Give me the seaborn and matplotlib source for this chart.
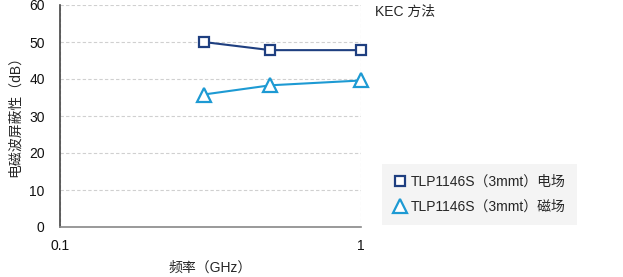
import matplotlib
matplotlib.use("Agg")
import matplotlib.pyplot as plt
from matplotlib.lines import Line2D
import seaborn as sns
import pandas as pd

freq_ghz = [0.3, 0.5, 1.0]
electric_db = [50.0, 47.8, 47.8]
magnetic_db = [35.8, 38.3, 39.6]
series_names = ["TLP1146S（3mmt）电场", "TLP1146S（3mmt）磁场"]
y_ticks = [0, 10, 20, 30, 40, 50, 60]
x_ticks = [0.1, 1]
x_tick_labels = ["0.1", "1"]

df = pd.DataFrame({
    "freq": freq_ghz * 2,
    "db": electric_db + magnetic_db,
    "series": [series_names[0]] * 3 + [series_names[1]] * 3,
})

sns.set_style("white")
plt.rcParams["font.family"] = ["Liberation Sans", "Noto Sans CJK SC", "DejaVu Sans"]

colors = {series_names[0]: "#1f3f80", series_names[1]: "#1d9ad3"}
markers = {series_names[0]: "s", series_names[1]: "^"}
msize = {"s": 7, "^": 9.5}

fig = plt.figure(figsize=(6.23, 2.77), dpi=100)
ax = fig.add_axes([60 / 623, 1 - 227 / 277, (361 - 60) / 623, (227 - 5) / 277])

for name in series_names:
    sub = df[df["series"] == name]
    sns.lineplot(data=sub, x="freq", y="db", ax=ax, color=colors[name],
                 marker=markers[name], markersize=msize[markers[name]],
                 markerfacecolor="white", markeredgecolor=colors[name],
                 markeredgewidth=1.6, linewidth=1.5, legend=False)

ax.set_xscale("log")
ax.set_xlim(0.1, 1)
ax.set_ylim(0, 60)
ax.set_yticks(y_ticks)
ax.set_xticks(x_ticks)
ax.set_xticklabels(x_tick_labels)
ax.minorticks_off()
ax.tick_params(axis="both", labelsize=10, direction="out", length=5, width=1,
               color="#555555", labelcolor="#111111", pad=4)
ax.tick_params(axis="y", pad=6)
for l in ax.lines:
    l.set_clip_on(False)

ax.grid(True, axis="y", linestyle=(0, (3, 2)), color="#d0d0d0", linewidth=0.8)
ax.grid(True, axis="x", linestyle=(0, (3, 2)), color="#d0d0d0", linewidth=0.8)
ax.spines["top"].set_visible(False)
ax.spines["right"].set_visible(False)
ax.spines["left"].set_color("#444444")
ax.spines["bottom"].set_color("#888888")
ax.spines["left"].set_linewidth(1.2)
ax.spines["bottom"].set_linewidth(1.2)

ax.set_xlabel("")
ax.set_ylabel("")
fig.text(210 / 623, 1 - 268 / 277, "频率（GHz）", ha="center", va="center", fontsize=10)
fig.text(15 / 623, 1 - 113 / 277, "电磁波屏蔽性（dB）", ha="center", va="center",
         rotation=90, fontsize=10)
fig.text(375 / 623, 1 - 12 / 277, "KEC 方法", ha="left", va="center", fontsize=10)

handles = [Line2D([], [], linestyle="none", marker=markers[n], markersize=msize[markers[n]],
                  markerfacecolor="white", markeredgecolor=colors[n], markeredgewidth=1.6)
           for n in series_names]
leg = fig.legend(handles, series_names, loc="upper left",
                 bbox_to_anchor=(382 / 623, 1 - 164 / 277), frameon=True,
                 fontsize=10, handlelength=1.0, handletextpad=0.3, borderpad=0.8,
                 labelspacing=0.75, fancybox=False, borderaxespad=0)
leg.get_frame().set_facecolor("#f2f2f2")
leg.get_frame().set_edgecolor("none")

fig.savefig("out.png", dpi=100)
